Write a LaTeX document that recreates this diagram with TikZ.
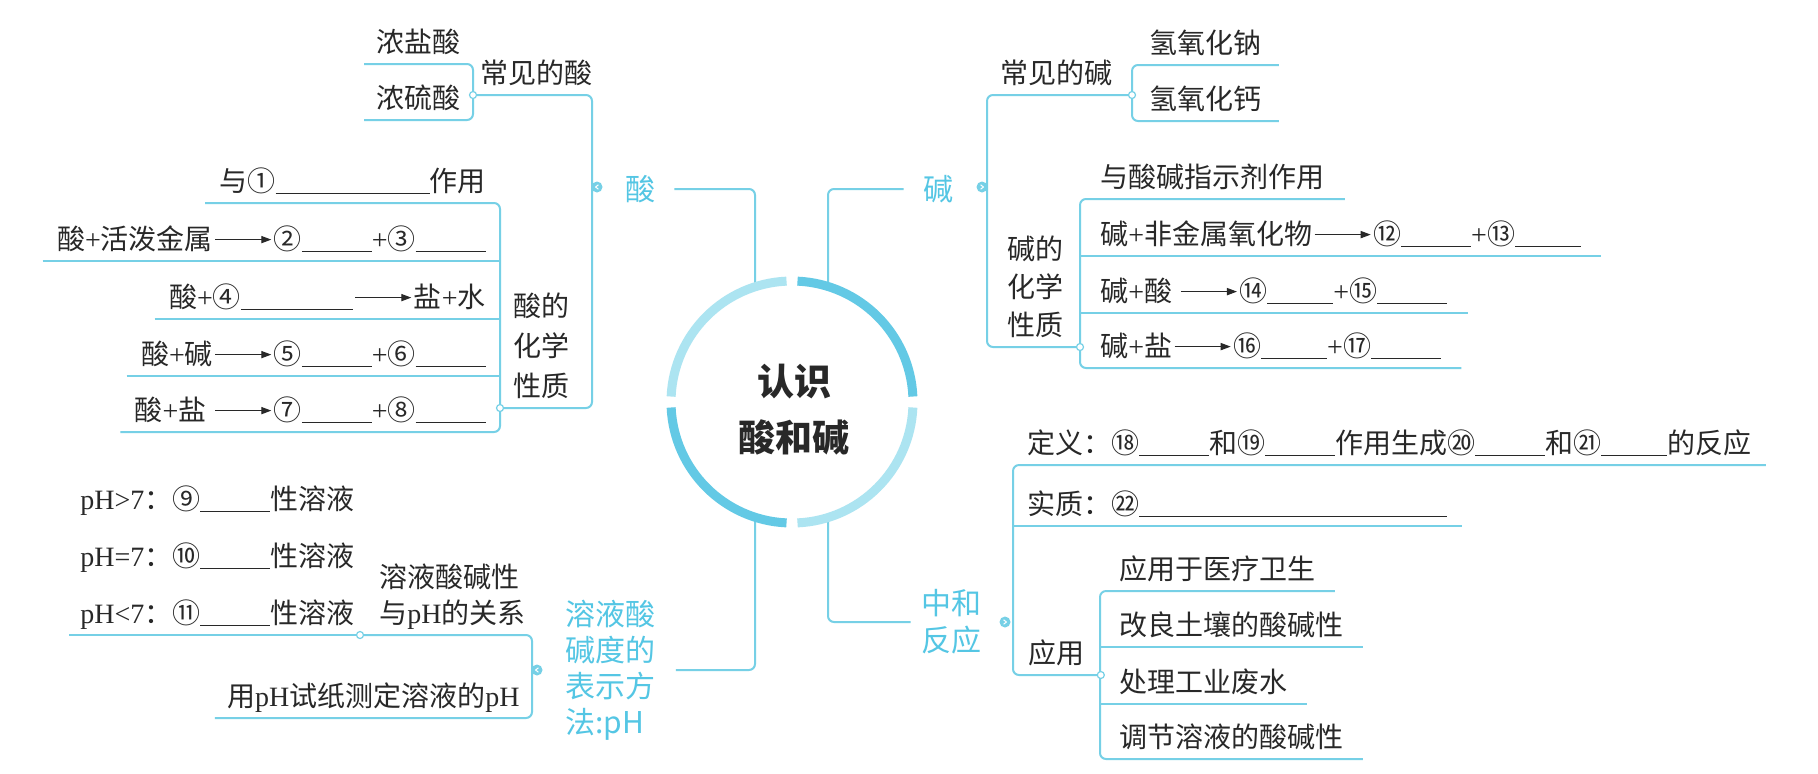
\documentclass[tikz,border=0pt]{standalone}
\usepackage{fontspec}
\setmainfont{Noto Sans CJK SC}
\newfontfamily\lat{Liberation Serif}
\usepackage{tikz}
\usetikzlibrary{arrows.meta, positioning, calc}

\definecolor{linecol}{RGB}{118,208,230}
\definecolor{tagcol}{RGB}{84,198,228}
\definecolor{ringlight}{RGB}{172,228,241}
\definecolor{ringdark}{RGB}{99,201,229}
\definecolor{ink}{RGB}{40,40,40}

\newcommand\plus{{\lat +}}
\newcommand\ph{{\lat pH}}
\newcommand\blank[1]{\rule[-1pt]{#1}{0.5pt}}
\newcommand\yields{\kern1pt\tikz[baseline=-5pt]\draw[ink, line width=0.5pt, -{Triangle[length=5pt,width=3.6pt]}] (0pt,0pt) -- (28pt,0pt);\kern1pt}

\begin{document}
\begin{tikzpicture}[x=0.5pt, y=-0.5pt,
    link/.style={draw=linecol, line width=1pt, rounded corners=3pt},
    leaf/.style={inner xsep=#1, inner ysep=5.5pt, text depth=0pt, text=ink, font=\fontsize{14}{20}\selectfont},
    leaf/.default=6pt,
    tag/.style={inner sep=0pt, text=tagcol, font=\fontsize{15}{18}\selectfont},
    joint/.style={circle, draw=linecol, fill=white, line width=0.6pt, inner sep=0pt, minimum size=3.5pt},
    knob/.style={circle, fill=linecol, inner sep=0pt, minimum size=5.5pt,
      path picture={\draw[white, line width=0.5pt]
        ([shift={({(#1)*0.7pt},1.1pt)}]path picture bounding box.center) --
        ([shift={({(#1)*(-0.7pt)},0pt)}]path picture bounding box.center) --
        ([shift={({(#1)*0.7pt},-1.1pt)}]path picture bounding box.center);}},
    arcpart/.style={line width=4.5pt}]
    \path[fill=white, use as bounding box] (0,0) rectangle (1818,773);

    % Centre
    \coordinate (hub) at (792,402);
    \node[font=\fontsize{18.5}{28}\selectfont\bfseries, text=ink, align=center] (core) at (794,410) {认识\\酸和碱};

    % Acid branch
    \node[tag] (acid) at (640,189) {酸};
    \coordinate (acidHub) at (592,187);
    \node[leaf=3.5pt, anchor=south west] (acidCommon) at (473,95) {常见的酸};
    \node[leaf, anchor=south east] (hcl) at (473,64) {浓盐酸};
    \node[leaf, anchor=south east] (h2so4) at (473,120) {浓硫酸};
    \node[leaf=6.5pt, anchor=south west, align=left] (acidProps) at (500,408) {酸的\\化学\\性质};
    \node[leaf=7pt, anchor=south east] (a1) at (500,203) {与①\blank{77pt}作用};
    \node[leaf=7pt, anchor=south east] (a2) at (500,261) {酸\plus 活泼金属\yields ②\blank{35pt}\plus ③\blank{35pt}};
    \node[leaf=7pt, anchor=south east] (a3) at (500,319) {酸\plus ④\blank{56pt}\yields 盐\plus 水};
    \node[leaf=7pt, anchor=south east] (a4) at (500,376) {酸\plus 碱\yields ⑤\blank{35pt}\plus ⑥\blank{35pt}};
    \node[leaf=7pt, anchor=south east] (a5) at (500,432) {酸\plus 盐\ \yields ⑦\blank{35pt}\plus ⑧\blank{35pt}};

    % pH branch
    \node[tag, anchor=west, align=left] (phTag) at (565,670) {溶液酸\\碱度的\\表示方\\法:pH};
    \coordinate (phHub) at (532,670);
    \node[leaf=9.5pt, anchor=south west, align=left, font=\fontsize{14}{18}\selectfont] (relation) at (360,635) {溶液酸碱性\\与\ph 的关系};
    \node[leaf=5.5pt, anchor=south west, align=left, font=\fontsize{14}{28.5}\selectfont] (phScale) at (69,635)
      {{\lat pH>7}：⑨\blank{35pt}性溶液\\{\lat pH=7}：⑩\blank{35pt}性溶液\\{\lat pH<7}：⑪\blank{35pt}性溶液};
    \node[leaf, anchor=south east] (paper) at (532,718) {用\ph 试纸测定溶液的\ph};

    % Base branch
    \node[tag] (base) at (938,189) {碱};
    \coordinate (baseHub) at (987,187);
    \node[leaf=9.5pt, anchor=south east] (baseCommon) at (1132,95) {常见的碱};
    \node[leaf=8.5pt, anchor=south west] (naoh) at (1132,65) {氢氧化钠};
    \node[leaf=8.5pt, anchor=south west] (caoh) at (1132,121) {氢氧化钙};
    \node[leaf=8pt, anchor=south east, align=left, font=\fontsize{14}{19}\selectfont] (baseProps) at (1080,347) {碱的\\化学\\性质};
    \node[leaf=10pt, anchor=south west] (b1) at (1080,199) {与酸碱指示剂作用};
    \node[leaf=10pt, anchor=south west] (b2) at (1080,256) {碱\plus 非金属氧化物\yields ⑫\blank{35pt}\plus ⑬\blank{33pt}};
    \node[leaf=10pt, anchor=south west] (b3) at (1080,313) {碱\plus 酸\ \yields ⑭\blank{33pt}\plus ⑮\blank{35pt}};
    \node[leaf=10pt, anchor=south west] (b4) at (1080,368) {碱\plus 盐\yields ⑯\blank{33pt}\plus ⑰\blank{35pt}};

    % Neutralisation branch
    \node[tag, align=left, font=\fontsize{15}{18.5}\selectfont] (neutral) at (951,622) {中和\\反应};
    \coordinate (neutralHub) at (1013,622);
    \node[leaf=7pt, anchor=south west] (define) at (1013,465) {定义：⑱\blank{35pt}和⑲\blank{35pt}作用生成⑳\blank{35pt}和㉑\blank{33pt}的反应};
    \node[leaf=7pt, anchor=south west] (essence) at (1013,526) {实质：㉒\blank{154pt}};
    \node[leaf=7.75pt, anchor=south west] (apply) at (1013,675) {应用};
    \node[leaf=9.5pt, anchor=south west] (n1) at (1100,591) {应用于医疗卫生};
    \node[leaf=9.5pt, anchor=south west] (n2) at (1100,647) {改良土壤的酸碱性};
    \node[leaf=9.5pt, anchor=south west] (n3) at (1100,704) {处理工业废水};
    \node[leaf=9.5pt, anchor=south west] (n4) at (1100,759) {调节溶液的酸碱性};

    % Links to the centre
    \coordinate (ringNW) at (755,287);
    \coordinate (ringNE) at (828,287);
    \coordinate (ringSW) at (755,517);
    \coordinate (ringSE) at (828,517);
    \draw[link] ([xshift=9.5pt]acid.east) -| (ringNW);
    \draw[link] ([xshift=-9.5pt]base.west) -| (ringNE);
    \draw[link] ([xshift=10pt]phTag.east) -| (ringSW);
    \draw[link] ([xshift=-5pt]neutral.west) -| (ringSE);

    % Spines and brackets
    \draw[link] (acidCommon.south west) -| (acidHub) |- (acidProps.south west);
    \draw[link] (hcl.south west) -- (hcl.south east) -- (h2so4.south east) -- (h2so4.south west);
    \draw[link] (a1.south west) -- (a1.south east) -- (a5.south east) -- (a5.south west);
    \foreach \r in {a2,a3,a4} \draw[link] (\r.south west) -- (\r.south east);

    \draw[link] (relation.south west) -| (phHub) |- (paper.south west);
    \draw[link] (phScale.south west) -- (relation.south west);

    \draw[link] (baseCommon.south east) -| (baseHub) |- (baseProps.south east);
    \draw[link] (naoh.south east) -- (naoh.south west) -- (caoh.south west) -- (caoh.south east);
    \draw[link] (b1.south east) -- (b1.south west) -- (b4.south west) -- (b4.south east);
    \foreach \r in {b2,b3} \draw[link] (\r.south west) -- (\r.south east);

    \draw[link] (define.south east) -- (define.south west) |- (apply.south east);
    \draw[link] (essence.south west) -- (essence.south east);
    \draw[link] (n1.south east) -- (n1.south west) -- (n4.south west) -- (n4.south east);
    \foreach \r in {n2,n3} \draw[link] (\r.south west) -- (\r.south east);

    % Ring
    \draw[arcpart, ringlight] ($(hub)+(182.6:121)$) arc[start angle=182.6, end angle=267.4, radius=121];
    \draw[arcpart, ringdark] ($(hub)+(272.6:121)$) arc[start angle=272.6, end angle=357.4, radius=121];
    \draw[arcpart, ringlight] ($(hub)+(2.6:121)$) arc[start angle=2.6, end angle=87.4, radius=121];
    \draw[arcpart, ringdark] ($(hub)+(92.6:121)$) arc[start angle=92.6, end angle=177.4, radius=121];

    % Joints and knobs
    \node[joint] at (acidCommon.south west) {};
    \node[joint] at (acidProps.south west) {};
    \node[joint] at (relation.south west) {};
    \node[joint] at (baseCommon.south east) {};
    \node[joint] at (baseProps.south east) {};
    \node[joint] at (apply.south east) {};
    \node[knob=1] (acidKnob) at ([xshift=2.5pt]acidHub) {};
    \node[knob=1] (phKnob) at ([xshift=2.5pt]phHub) {};
    \node[knob=-1] (baseKnob) at ([xshift=-2.5pt]baseHub) {};
    \node[knob=-1] (neutralKnob) at ([xshift=-4pt]neutralHub) {};
\end{tikzpicture}
\end{document}
